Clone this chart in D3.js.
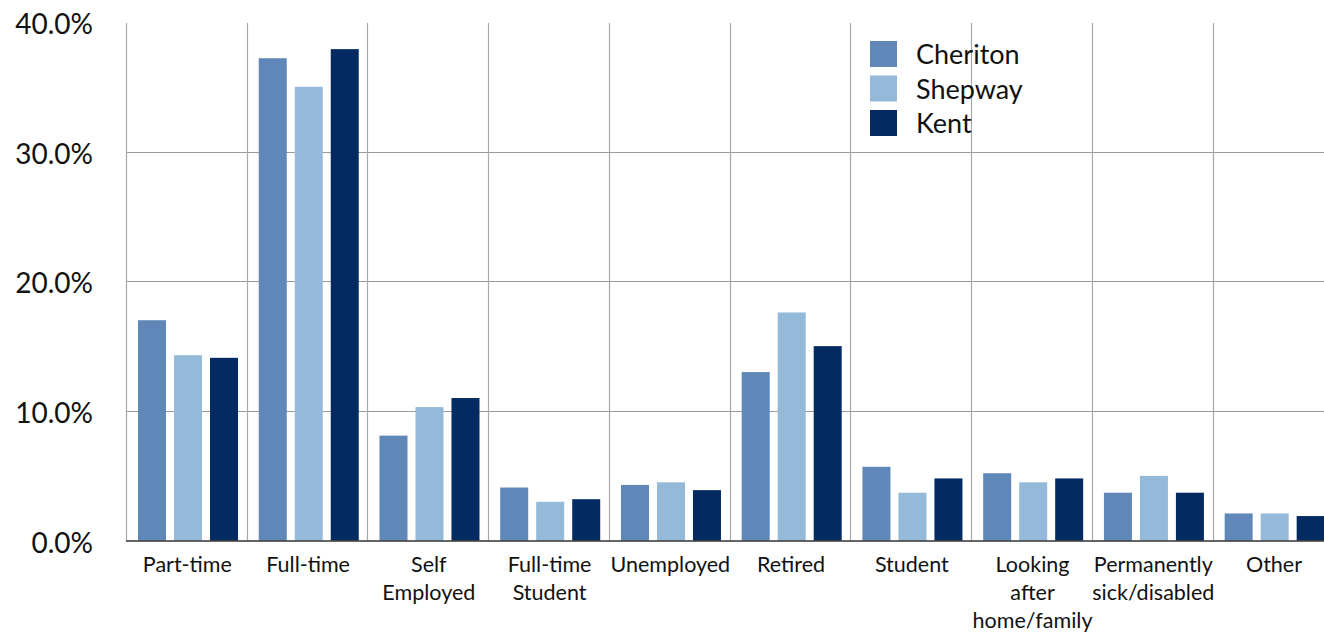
<!DOCTYPE html>
<html><head><meta charset="utf-8">
<script src="https://cdn.jsdelivr.net/npm/d3@7"></script>
<style>body{margin:0;background:#fff;} text{font-family:Lato,"Open Sans",sans-serif;fill:#111;}</style>
</head><body><svg id="c" width="1324" height="632"></svg>
<script>
const categories = ["Part-time","Full-time","Self Employed","Full-time Student","Unemployed","Retired","Student","Looking after home/family","Permanently sick/disabled","Other"];
const labelLines = [["Part-time"],["Full-time"],["Self","Employed"],["Full-time","Student"],["Unemployed"],["Retired"],["Student"],["Looking","after","home/family"],["Permanently","sick/disabled"],["Other"]];
const seriesNames = ["Cheriton","Shepway","Kent"];
const cheriton = [17.0,37.2,8.1,4.1,4.3,13.0,5.7,5.2,3.7,2.1];
const shepway  = [14.3,35.0,10.3,3.0,4.5,17.6,3.7,4.5,5.0,2.1];
const kent     = [14.1,37.9,11.0,3.2,3.9,15.0,4.8,4.8,3.7,1.9];
const yTicks = [0,10,20,30,40];
const colors = ["#5f87b8","#95b9d9","#032b61"];

const svg = d3.select("#c");
const x0 = d3.scaleBand().domain(categories).range([126,1333.4]).padding(0);
const x1 = d3.scaleBand().domain(seriesNames).range([12,112]).paddingInner(0.222).paddingOuter(0);
const y = d3.scaleLinear().domain([0,40]).range([540.7,21.9]);
const seriesVals = [cheriton,shepway,kent];

// horizontal gridlines
svg.append("g").selectAll("line").data(yTicks.filter(d=>d>0&&d<40)).join("line")
  .attr("x1",126).attr("x2",1324).attr("y1",d=>Math.round(y(d))+0.5).attr("y2",d=>Math.round(y(d))+0.5)
  .attr("stroke","#9a9a9a").attr("stroke-width",1);
// vertical gridlines
svg.append("g").selectAll("line").data(categories).join("line")
  .attr("x1",d=>Math.round(x0(d))+0.5).attr("x2",d=>Math.round(x0(d))+0.5)
  .attr("y1",23).attr("y2",541).attr("stroke","#a8a8a8").attr("stroke-width",1.2);

// bars
const g = svg.append("g");
categories.forEach((c,i)=>{
  seriesNames.forEach((s,j)=>{
    g.append("rect").attr("x",x0(c)+x1(s)).attr("width",x1.bandwidth())
      .attr("y",y(seriesVals[j][i])).attr("height",y(0)-y(seriesVals[j][i]))
      .attr("fill",colors[j]);
  });
});

// baseline
svg.append("line").attr("x1",126).attr("x2",1324).attr("y1",541).attr("y2",541).attr("stroke","#333").attr("stroke-width",1.6);

// y labels
svg.append("g").selectAll("text").data(yTicks).join("text")
  .attr("x",93).attr("y",d=>y(d)+12).attr("text-anchor","end")
  .style("font-size","28px").text(d=>d.toFixed(1)+"%");

// x labels
const xl = svg.append("g").selectAll("text").data(categories).join("text")
  .attr("x",d=>x0(d)+x0.bandwidth()/2+1).attr("y",572).attr("text-anchor","middle").style("font-size","21.5px");
xl.each(function(d,i){
  const t=d3.select(this);
  labelLines[i].forEach((l,k)=>t.append("tspan").attr("x",x0(d)+x0.bandwidth()/2+1).attr("dy",k===0?0:28).text(l));
});

// legend
const lg = svg.append("g").selectAll("g").data(seriesNames).join("g")
  .attr("transform",(d,i)=>`translate(870,${41+i*34.5})`);
lg.append("rect").attr("width",27).attr("height",26).attr("fill",(d,i)=>colors[i]);
lg.append("text").attr("x",46).attr("y",23).style("font-size","27px").text(d=>d);
</script></body></html>
